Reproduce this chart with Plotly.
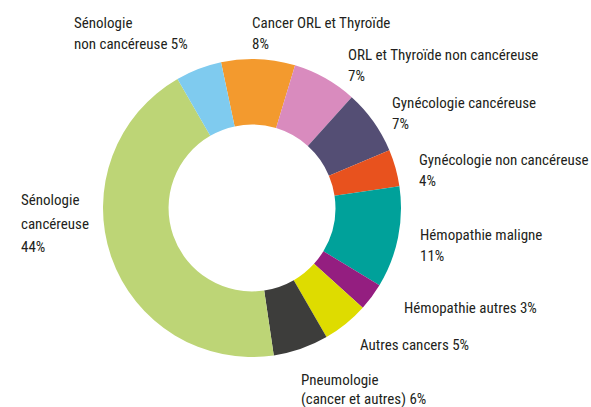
import plotly.graph_objects as go

W, H = 591, 407

# Data (clockwise order, starting with "Cancer ORL et Thyroïde")
categories = [
    "Cancer ORL et Thyroïde",
    "ORL et Thyroïde non cancéreuse",
    "Gynécologie cancéreuse",
    "Gynécologie non cancéreuse",
    "Hémopathie maligne",
    "Hémopathie autres",
    "Autres cancers",
    "Pneumologie (cancer et autres)",
    "Sénologie cancéreuse",
    "Sénologie non cancéreuse",
]
values = [8, 7, 7, 4, 11, 3, 5, 6, 44, 5]
colors = [
    "#F39A2E", "#D98BBE", "#544E74", "#E8521E", "#00A19A",
    "#941E80", "#DEDC00", "#3D3D3B", "#BDD576", "#7FCBEF",
]
label_texts = [
    "Cancer ORL et Thyroïde<br>8%",
    "ORL et Thyroïde non cancéreuse<br>7%",
    "Gynécologie cancéreuse<br>7%",
    "Gynécologie non cancéreuse<br>4%",
    "Hémopathie maligne<br>11%",
    "Hémopathie autres 3%",
    "Autres cancers 5%",
    "Pneumologie<br>(cancer et autres) 6%",
    "Sénologie<br>cancéreuse<br>44%",
    "Sénologie<br>non cancéreuse 5%",
]
# label anchor (left x, top y of first line, line gap) in window pixels
label_pos = [
    (250, 12, 21), (346, 44, 21), (390, 92, 21), (417, 149, 21), (418, 224, 21),
    (402, 297, 21), (358, 334, 21), (299, 369, 19), (19, 189, 23.5), (72, 12, 21),
]

FONT = "Roboto Condensed, Liberation Sans Narrow, DejaVu Sans Condensed, sans-serif"

cx, cy, r = 252, 208, 149
fig = go.Figure(go.Pie(
    labels=categories,
    values=values,
    marker=dict(colors=colors, line=dict(width=0)),
    hole=0.56,
    sort=False,
    direction="clockwise",
    rotation=-12,
    textinfo="none",
    hoverinfo="label+percent",
    showlegend=False,
    domain=dict(x=[(cx - r) / W, (cx + r) / W], y=[1 - (cy + r) / H, 1 - (cy - r) / H]),
))

annotations = []
for txt, (px, py, gap) in zip(label_texts, label_pos):
    for i, line in enumerate(txt.split("<br>")):
        annotations.append(dict(
            text=line, x=px / W, y=1 - (py + i * gap) / H,
            xref="paper", yref="paper",
            xanchor="left", yanchor="top", align="left", showarrow=False,
            font=dict(family=FONT, size=15, color="#231F20"),
        ))

fig.update_layout(
    width=W, height=H,
    margin=dict(l=0, r=0, t=0, b=0),
    paper_bgcolor="white", plot_bgcolor="white",
    annotations=annotations,
)

# remove the browser's default page margin so the figure fills the window
fig.write_html("out.html", config={"displayModeBar": False},
               post_script="document.body.style.margin='0';")
